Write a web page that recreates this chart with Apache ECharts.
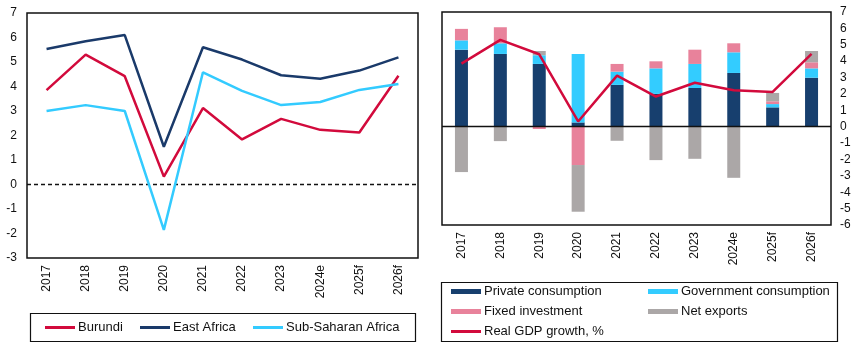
<!DOCTYPE html>
<html>
<head>
<meta charset="utf-8">
<script src="https://cdn.jsdelivr.net/npm/echarts@6/dist/echarts.min.js"></script>
<style>
	html, body { margin: 0; padding: 0; background: #fff; }
	#main { width: 865px; height: 351px; }
</style>
</head>
<body>
<div id="main"></div>
<script>
// categories
var years = ['2017', '2018', '2019', '2020', '2021', '2022', '2023', '2024e', '2025f', '2026f'];

// left panel: real GDP growth, %
var burundi = [3.85, 5.3, 4.42, 0.32, 3.12, 1.84, 2.68, 2.23, 2.12, 4.44];
var eastAfrica = [5.53, 5.85, 6.1, 1.54, 5.6, 5.1, 4.46, 4.32, 4.65, 5.19];
var subSaharan = [3.0, 3.24, 3.0, -1.85, 4.58, 3.82, 3.24, 3.37, 3.86, 4.1];

// right panel: contributions to growth, pp
var privCons = [4.7, 4.44, 3.83, 0.26, 2.55, 2.0, 2.36, 3.28, 1.18, 2.99];
var govCons = [0.57, 0.65, 0.53, 4.18, 0.81, 1.56, 1.47, 1.26, 0.2, 0.57];
var fixedInv = [0.7, 0.98, -0.14, -2.34, 0.47, 0.43, 0.87, 0.55, 0.17, 0.37];
var netExp = [-2.77, -0.88, 0.26, -2.85, -0.86, -2.04, -1.96, -3.12, 0.51, 0.69];

var leftTicks = { min: -3, max: 7, interval: 1 };
var rightTicks = { min: -6, max: 7, interval: 1 };

var font = 'Liberation Sans, Arial, sans-serif';
var txt = { color: '#111', fontSize: 12, fontFamily: font };

var chart = echarts.init(document.getElementById('main'));

function lineSeries(name, data, color, xi, yi) {
	return {
		name: name,
		type: 'line',
		xAxisIndex: xi,
		yAxisIndex: yi,
		data: data,
		symbol: 'none',
		lineStyle: { color: color, width: 2.5 },
		itemStyle: { color: color },
		z: 5
	};
}

function barSeries(name, data, color) {
	return {
		name: name,
		type: 'bar',
		stack: 'contrib',
		xAxisIndex: 1,
		yAxisIndex: 1,
		barWidth: 13,
		data: data,
		itemStyle: { color: color }
	};
}

function zeroLine(type) {
	return {
		silent: true,
		symbol: 'none',
		label: { show: false },
		lineStyle: { color: '#111', width: 1.3, type: type },
		data: [{ yAxis: 0 }]
	};
}

function oneLegend(name, left, top, h) {
	return {
		data: [name],
		left: left,
		top: top,
		padding: 0,
		icon: 'rect',
		itemWidth: 30,
		itemHeight: h,
		itemGap: 4,
		textStyle: { color: '#111', fontSize: 13, fontFamily: font, padding: [0, 0, 0, -2] }
	};
}

var option = {
	animation: false,
	backgroundColor: '#fff',
	grid: [
		{ left: 27, right: 447, top: 13, bottom: 93, show: true, borderColor: '#111', borderWidth: 1.5, containLabel: false, outerBoundsMode: 'none' },
		{ left: 442, right: 34, top: 12, bottom: 126, show: true, borderColor: '#111', borderWidth: 1.5, containLabel: false, outerBoundsMode: 'none' }
	],
	xAxis: [
		{
			gridIndex: 0, type: 'category', data: years,
			axisLine: { show: false, onZero: false },
			axisTick: { show: false },
			axisLabel: Object.assign({ rotate: 90, margin: 7, interval: 0 }, txt)
		},
		{
			gridIndex: 1, type: 'category', data: years,
			axisLine: { show: false, onZero: false },
			axisTick: { show: false },
			axisLabel: Object.assign({ rotate: 90, margin: 7, interval: 0 }, txt)
		}
	],
	yAxis: [
		{
			gridIndex: 0, type: 'value', min: leftTicks.min, max: leftTicks.max, interval: leftTicks.interval,
			axisLine: { show: false }, axisTick: { show: false }, splitLine: { show: false },
			axisLabel: Object.assign({ margin: 10 }, txt)
		},
		{
			gridIndex: 1, type: 'value', position: 'right', min: rightTicks.min, max: rightTicks.max, interval: rightTicks.interval,
			axisLine: { show: false }, axisTick: { show: false }, splitLine: { show: false },
			axisLabel: Object.assign({ margin: 9 }, txt)
		}
	],
	legend: [
		oneLegend('Burundi', 45, 321, 3),
		oneLegend('East Africa', 140, 321, 3),
		oneLegend('Sub-Saharan Africa', 253, 321, 3),
		oneLegend('Private consumption', 451, 285, 5),
		oneLegend('Government consumption', 648, 285, 5),
		oneLegend('Fixed investment', 451, 305, 5),
		oneLegend('Net exports', 648, 305, 5),
		oneLegend('Real GDP growth, %', 451, 325, 3)
	],
	graphic: [
		{ type: 'rect', shape: { x: 30.5, y: 313.5, width: 385, height: 28 }, style: { fill: 'none', stroke: '#111', lineWidth: 1.2 } },
		{ type: 'rect', shape: { x: 441.5, y: 282.5, width: 396, height: 59 }, style: { fill: 'none', stroke: '#111', lineWidth: 1.2 } }
	],
	series: [
		Object.assign(lineSeries('Burundi', burundi, '#d20a3c', 0, 0), { markLine: zeroLine([4, 3]) }),
		lineSeries('East Africa', eastAfrica, '#1a3a6a', 0, 0),
		lineSeries('Sub-Saharan Africa', subSaharan, '#33cbff', 0, 0),
		Object.assign(barSeries('Private consumption', privCons, '#173f6e'), { markLine: zeroLine('solid') }),
		barSeries('Government consumption', govCons, '#33ccff'),
		barSeries('Fixed investment', fixedInv, '#e8829b'),
		barSeries('Net exports', netExp, '#aba7a7'),
		lineSeries('Real GDP growth, %', burundi, '#d20a3c', 1, 1)
	]
};

chart.setOption(option);
</script>
</body>
</html>
